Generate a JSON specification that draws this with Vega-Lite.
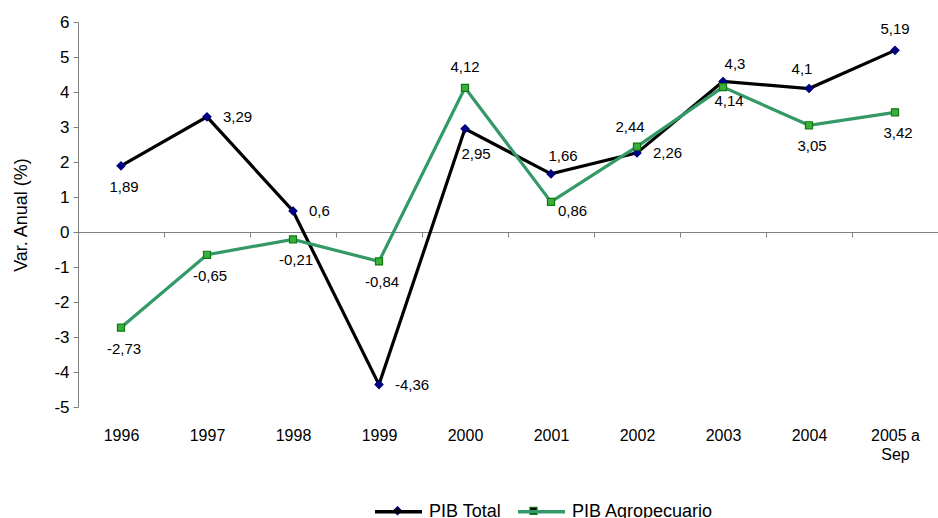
{
  "$schema": "https://vega.github.io/schema/vega-lite/v6.json",
  "width": 860,
  "height": 385,
  "autosize": "none",
  "padding": {"left": 78, "top": 22, "right": 0, "bottom": 111},
  "background": "white",
  "config": {"view": {"stroke": null}, "font": "Liberation Sans", "axis": {"grid": false}},
  "data": {"values": [
    {"anio": "1996", "serie": "PIB Total", "v": 1.89},
    {"anio": "1997", "serie": "PIB Total", "v": 3.29},
    {"anio": "1998", "serie": "PIB Total", "v": 0.6},
    {"anio": "1999", "serie": "PIB Total", "v": -4.36},
    {"anio": "2000", "serie": "PIB Total", "v": 2.95},
    {"anio": "2001", "serie": "PIB Total", "v": 1.66},
    {"anio": "2002", "serie": "PIB Total", "v": 2.26},
    {"anio": "2003", "serie": "PIB Total", "v": 4.3},
    {"anio": "2004", "serie": "PIB Total", "v": 4.1},
    {"anio": "2005 a Sep", "serie": "PIB Total", "v": 5.19},
    {"anio": "1996", "serie": "PIB Agropecuario", "v": -2.73},
    {"anio": "1997", "serie": "PIB Agropecuario", "v": -0.65},
    {"anio": "1998", "serie": "PIB Agropecuario", "v": -0.21},
    {"anio": "1999", "serie": "PIB Agropecuario", "v": -0.84},
    {"anio": "2000", "serie": "PIB Agropecuario", "v": 4.12},
    {"anio": "2001", "serie": "PIB Agropecuario", "v": 0.86},
    {"anio": "2002", "serie": "PIB Agropecuario", "v": 2.44},
    {"anio": "2003", "serie": "PIB Agropecuario", "v": 4.14},
    {"anio": "2004", "serie": "PIB Agropecuario", "v": 3.05},
    {"anio": "2005 a Sep", "serie": "PIB Agropecuario", "v": 3.42}
  ]},
  "transform": [
    {"calculate": "replace(toString(datum.v), '.', ',')", "as": "lab"},
    {"calculate": "datum.serie + '|' + datum.anio", "as": "key"}
  ],
  "encoding": {
    "x": {
      "field": "anio", "type": "nominal", "sort": null,
      "scale": {"paddingInner": 0, "paddingOuter": 0},
      "axis": {
        "title": null, "offset": -175, "tickBand": "extent", "tickSize": 5,
        "tickColor": "#808080", "domainColor": "#808080",
        "labelPadding": 190, "labelFontSize": 16, "labelColor": "black", "labelAngle": 0,
        "labelLineHeight": 19,
        "labelExpr": "datum.label == '2005 a Sep' ? ['2005 a', 'Sep'] : datum.label"
      }
    },
    "y": {
      "field": "v", "type": "quantitative",
      "scale": {"domain": [-5, 6], "nice": false},
      "axis": {
        "title": "Var. Anual (%)", "titleFontSize": 18, "titleFontWeight": "normal",
        "titleColor": "black", "titlePadding": 23,
        "values": [-5, -4, -3, -2, -1, 0, 1, 2, 3, 4, 5, 6],
        "labelExpr": "toString(datum.value)",
        "labelFontSize": 17, "labelColor": "black", "labelPadding": 4,
        "domainColor": "#808080", "tickColor": "#808080", "tickSize": 5
      }
    }
  },
  "resolve": {"scale": {"color": "independent"}, "legend": {"color": "independent"}},
  "layer": [
    {
      "mark": {"type": "line", "strokeWidth": 3.2},
      "encoding": {
        "color": {
          "field": "serie", "type": "nominal",
          "scale": {"domain": ["PIB Total", "PIB Agropecuario"], "range": ["#000000", "#339966"]},
          "legend": {
            "orient": "none", "legendX": 295, "legendY": 464, "direction": "horizontal",
            "title": null, "symbolType": "stroke", "symbolSize": 2209, "symbolStrokeWidth": 3.5,
            "labelFontSize": 18, "labelOffset": 5, "columnPadding": 9, "padding": 0,
            "labelColor": "black"
          }
        }
      }
    },
    {
      "transform": [{"calculate": "datum.serie + ' '", "as": "s2"}],
      "mark": {"type": "point", "filled": true, "size": 2209, "strokeWidth": 1.2, "opacity": 1},
      "encoding": {
        "color": {
          "field": "s2", "type": "nominal",
          "scale": {"domain": ["PIB Total ", "PIB Agropecuario "], "range": ["#000080", "#3cae3c"]},
          "legend": null
        },
        "shape": {
          "field": "s2", "type": "nominal",
          "scale": {"domain": ["PIB Total ", "PIB Agropecuario "], "range": ["M0,-0.17L0.17,0L0,0.17L-0.17,0Z", "M-0.15,-0.15L0.15,-0.15L0.15,0.15L-0.15,0.15Z"]},
          "legend": {
            "orient": "none", "legendX": 295, "legendY": 464, "direction": "horizontal",
            "title": null, "symbolSize": 2209, "symbolStrokeWidth": 1.2,
            "labelFontSize": 18, "labelOffset": 5, "columnPadding": 9, "padding": 0,
            "labelOpacity": 0,
            "encode": {
              "symbols": {
                "fill": {"signal": "datum.value == 'PIB Total ' ? '#000080' : '#3cae3c'"},
                "stroke": {"signal": "datum.value == 'PIB Total ' ? '#000080' : '#0f7a0f'"},
                "opacity": {"value": 1}
              }
            }
          }
        },
        "stroke": {
          "field": "s2", "type": "nominal",
          "scale": {"domain": ["PIB Total ", "PIB Agropecuario "], "range": ["#000080", "#0f7a0f"]},
          "legend": null
        }
      }
    },
    {
      "transform": [{"filter": "indexof(['PIB Total|2005 a Sep', 'PIB Agropecuario|2000'], datum.key) >= 0"}],
      "mark": {"type": "text", "dy": -21, "fontSize": 15, "color": "black"},
      "encoding": {"text": {"field": "lab"}}
    },
    {
      "transform": [{"filter": "indexof(['PIB Total|2004', 'PIB Agropecuario|2002'], datum.key) >= 0"}],
      "mark": {"type": "text", "dy": -20, "dx": -7, "fontSize": 15, "color": "black"},
      "encoding": {"text": {"field": "lab"}}
    },
    {
      "transform": [{"filter": "indexof(['PIB Total|2001', 'PIB Total|2003'], datum.key) >= 0"}],
      "mark": {"type": "text", "dy": -18, "dx": 12, "fontSize": 15, "color": "black"},
      "encoding": {"text": {"field": "lab"}}
    },
    {
      "transform": [{"filter": "indexof(['PIB Total|1996', 'PIB Agropecuario|1996', 'PIB Agropecuario|1997', 'PIB Agropecuario|1998', 'PIB Agropecuario|1999', 'PIB Agropecuario|2004', 'PIB Agropecuario|2005 a Sep'], datum.key) >= 0"}],
      "mark": {"type": "text", "dy": 21, "dx": 3, "fontSize": 15, "color": "black"},
      "encoding": {"text": {"field": "lab"}}
    },
    {
      "transform": [{"filter": "indexof(['PIB Total|2000'], datum.key) >= 0"}],
      "mark": {"type": "text", "dy": 25, "dx": 11, "fontSize": 15, "color": "black"},
      "encoding": {"text": {"field": "lab"}}
    },
    {
      "transform": [{"filter": "indexof(['PIB Agropecuario|2003'], datum.key) >= 0"}],
      "mark": {"type": "text", "dy": 14, "dx": 6, "fontSize": 15, "color": "black"},
      "encoding": {"text": {"field": "lab"}}
    },
    {
      "transform": [{"filter": "indexof(['PIB Total|1997', 'PIB Total|1998', 'PIB Total|1999', 'PIB Total|2002'], datum.key) >= 0"}],
      "mark": {"type": "text", "dx": 16, "align": "left", "fontSize": 15, "color": "black"},
      "encoding": {"text": {"field": "lab"}}
    },
    {
      "transform": [{"filter": "indexof(['PIB Agropecuario|2001'], datum.key) >= 0"}],
      "mark": {"type": "text", "dx": 7, "dy": 9, "align": "left", "fontSize": 15, "color": "black"},
      "encoding": {"text": {"field": "lab"}}
    }
  ]
}
